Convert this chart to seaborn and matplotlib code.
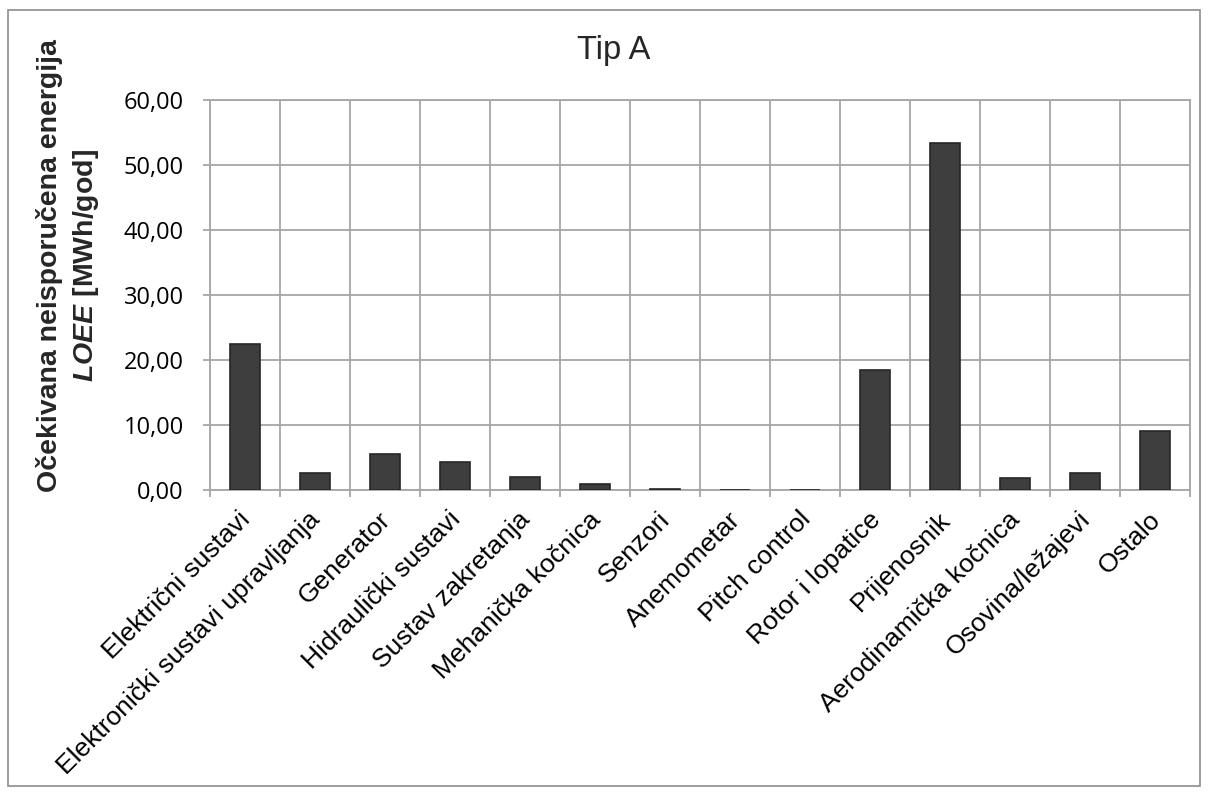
import matplotlib.pyplot as plt
import matplotlib.ticker as mticker
import matplotlib.transforms as mtransforms
import numpy as np
import pandas as pd
import seaborn as sns

# Data
categories = [
    "Električni sustavi",
    "Elektronički sustavi upravljanja",
    "Generator",
    "Hidraulički sustavi",
    "Sustav zakretanja",
    "Mehanička kočnica",
    "Senzori",
    "Anemometar",
    "Pitch control",
    "Rotor i lopatice",
    "Prijenosnik",
    "Aerodinamička kočnica",
    "Osovina/ležajevi",
    "Ostalo",
]
loee = [22.5, 2.6, 5.6, 4.3, 2.1, 0.9, 0.2, 0.05, 0.0, 18.5, 53.4, 1.9, 2.6, 9.2]
yticks = [0, 10, 20, 30, 40, 50, 60]

sns.set_theme(style="white")
plt.rcParams["font.family"] = ["Liberation Sans", "DejaVu Sans"]
plt.rcParams["mathtext.fontset"] = "custom"
plt.rcParams["mathtext.bfit"] = "Liberation Sans:italic:bold"
plt.rcParams["mathtext.bf"] = "Liberation Sans:bold"

df = pd.DataFrame({"Kategorija": categories, "LOEE": loee})

fig = plt.figure(figsize=(12.08, 7.96), dpi=100)
ax = fig.add_axes([0.174, 0.384, 0.811, 0.490])

grid_col = "#a6a6a6"
sns.barplot(data=df, x="Kategorija", y="LOEE", color="#3e3e3e",
            edgecolor="#262626", linewidth=1.2, width=0.42,
            saturation=1, ax=ax, zorder=3)

# Category boundaries as vertical gridlines
ax.set_xlim(-0.5, len(categories) - 0.5)
ax.set_xticks(np.arange(-0.5, len(categories), 1), minor=True)
ax.set_ylim(0, 60)
ax.set_yticks(yticks)
ax.yaxis.set_major_formatter(mticker.FuncFormatter(lambda v, p: f"{v:.2f}".replace(".", ",")))

ax.grid(axis="y", which="major", color=grid_col, linewidth=1.3, zorder=0)
ax.grid(axis="x", which="minor", color=grid_col, linewidth=1.3, zorder=0)
ax.set_axisbelow(True)

ax.tick_params(axis="x", which="major", length=0, pad=10, labelsize=19, labelcolor="black")
ax.tick_params(axis="x", which="minor", bottom=True, length=5, width=1.3, color=grid_col)
ax.tick_params(axis="y", left=True, length=5, width=1.3, color=grid_col, labelsize=17, labelcolor="black", pad=14)
shift = mtransforms.ScaledTranslation(-7 / 100, -3 / 100, fig.dpi_scale_trans)
for lab in ax.get_xticklabels():
    lab.set_rotation(45)
    lab.set_ha("right")
    lab.set_rotation_mode("anchor")
    lab.set_transform(lab.get_transform() + shift)
for lab in ax.get_yticklabels():
    lab.set_family(["Open Sans", "DejaVu Sans"])

for s in ax.spines.values():
    s.set_color(grid_col)
    s.set_linewidth(1.3)

ax.set_xlabel("")
ax.set_ylabel("")

fig.text(0.508, 0.937, "Tip A", ha="center", va="center", fontsize=23.5)
fig.text(0.041, 0.667, "Očekivana neisporučena energija", rotation=90,
         ha="center", va="center", fontsize=20.5, fontweight="bold")
fig.text(0.071, 0.667, r"$\mathbfit{LOEE}$ [MWh/god]", rotation=90,
         ha="center", va="center", fontsize=20.5, fontweight="bold")

# Outer chart border
fig.patches.append(plt.Rectangle((0.0066, 0.0126), 0.987, 0.975, transform=fig.transFigure,
                                 fill=False, edgecolor="#8c8c8c", linewidth=1.2))

fig.savefig("out.png", dpi=100)
